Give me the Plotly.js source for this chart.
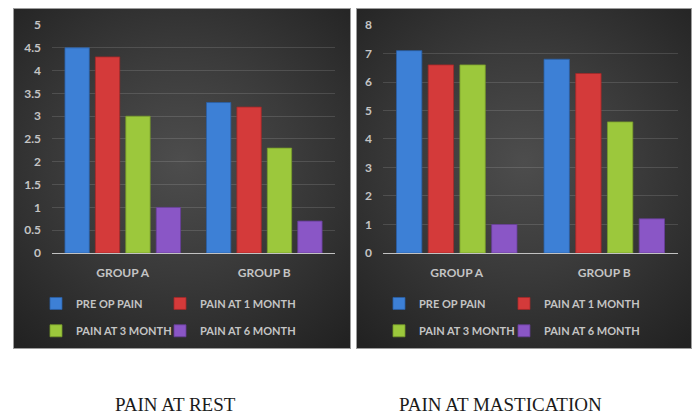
<!DOCTYPE html>
<html>
<head>
<meta charset="utf-8">
<script src="https://cdn.plot.ly/plotly-3.0.1.min.js"></script>
<style>
  html, body { margin: 0; padding: 0; background: #ffffff; }
  #wrap { position: relative; width: 699px; height: 414px; overflow: hidden; }
  .panel {
    position: absolute; top: 8px; height: 341px;
    background: radial-gradient(ellipse 75% 70% at 50% 45%, #4d4d4d 0%, #3b3b3b 45%, #2b2b2b 80%, #222222 100%);
    border: 1px solid #9c9c9c;
    box-sizing: border-box;
  }
  #panelRest { left: 13px; width: 338px; }
  #panelMast { left: 356px; width: 336px; }
  #chart { position: absolute; left: 0; top: 0; width: 699px; height: 414px; }
</style>
</head>
<body>
<div id="wrap">
  <div class="panel" id="panelRest"></div>
  <div class="panel" id="panelMast"></div>
  <div id="chart"></div>
</div>
<script>
// Groups on the category axis
const groups = ['GROUP A', 'GROUP B'];

// Series names and colours
const seriesNames = ['PRE OP PAIN', 'PAIN AT 1 MONTH', 'PAIN AT 3 MONTH', 'PAIN AT 6 MONTH'];
const seriesColors = ['#3d80d6', '#d43a3a', '#9cc83c', '#8a56c6'];
const seriesEdges = ['#2a5fa6', '#a32828', '#769a2a', '#673e99'];

// Pain at rest (left chart)
const restPreOp = [4.5, 3.3];
const rest1Month = [4.3, 3.2];
const rest3Month = [3.0, 2.3];
const rest6Month = [1.0, 0.7];

// Pain at mastication (right chart)
const mastPreOp = [7.1, 6.8];
const mast1Month = [6.6, 6.3];
const mast3Month = [6.6, 4.6];
const mast6Month = [1.0, 1.2];

// Y tick labels
const restTicks = [0, 0.5, 1, 1.5, 2, 2.5, 3, 3.5, 4, 4.5, 5];
const mastTicks = [0, 1, 2, 3, 4, 5, 6, 7, 8];

const restSeries = [restPreOp, rest1Month, rest3Month, rest6Month];
const mastSeries = [mastPreOp, mast1Month, mast3Month, mast6Month];

// one legend box per entry so the two-column key lines up exactly
const restLegends = ['legend', 'legend2', 'legend3', 'legend4'];
const mastLegends = ['legend5', 'legend6', 'legend7', 'legend8'];

const traces = [];
restSeries.forEach((vals, i) => {
  traces.push({
    type: 'bar', x: groups, y: vals, name: seriesNames[i],
    xaxis: 'x', yaxis: 'y', legend: restLegends[i],
    marker: { color: seriesColors[i], line: { color: seriesEdges[i], width: 0.8 } },
    hoverinfo: 'y'
  });
});
mastSeries.forEach((vals, i) => {
  traces.push({
    type: 'bar', x: groups, y: vals, name: seriesNames[i],
    xaxis: 'x2', yaxis: 'y2', legend: mastLegends[i],
    marker: { color: seriesColors[i], line: { color: seriesEdges[i], width: 0.8 } },
    hoverinfo: 'y'
  });
});

const uiFont = { family: 'Lato, "Open Sans", sans-serif', size: 12, color: '#c4c4c4', weight: 'bold' };
const keyFont = { family: 'Lato, "Open Sans", sans-serif', size: 11, color: '#c4c4c4', weight: 'bold' };
const gridColor = 'rgba(255,255,255,0.13)';

function yAxis(range, ticks) {
  return {
    range: range, tickvals: ticks, ticktext: ticks.map(String),
    domain: [0.3889, 0.9396],
    showgrid: true, gridcolor: gridColor, gridwidth: 1,
    zeroline: false, showline: false, ticks: '',
    ticklabelstandoff: 10,
    tickfont: uiFont, fixedrange: true
  };
}
function xAxis(domain) {
  return {
    domain: domain, type: 'category',
    showline: true, linecolor: '#c2c2c2', linewidth: 1.5,
    ticks: '', showgrid: false, zeroline: false,
    ticklabelstandoff: 8,
    tickfont: uiFont, fixedrange: true
  };
}
function legendAt(x, y) {
  return {
    x: x, y: y, xanchor: 'left', yanchor: 'middle', xref: 'paper', yref: 'paper',
    orientation: 'h',
    bgcolor: 'rgba(0,0,0,0)', borderwidth: 0,
    font: keyFont,
    itemclick: false, itemdoubleclick: false
  };
}

const col1Rest = 0.0515, col2Rest = 0.2289;
const col1Mast = 0.5422, col2Mast = 0.7210;
const row1 = 0.267, row2 = 0.201;

const titleFont = { family: '"Liberation Serif", "Times New Roman", serif', size: 19, color: '#1a1a1a' };

const layout = {
  width: 699, height: 414,
  margin: { l: 0, r: 0, t: 0, b: 0 },
  paper_bgcolor: 'rgba(0,0,0,0)',
  plot_bgcolor: 'rgba(0,0,0,0)',
  barmode: 'group', bargap: 0.14, bargroupgap: 0.2,
  showlegend: true,
  xaxis: Object.assign(xAxis([0.0744, 0.4793]), { anchor: 'y' }),
  yaxis: Object.assign(yAxis([0, 5], restTicks), { anchor: 'x' }),
  xaxis2: Object.assign(xAxis([0.5479, 0.97]), { anchor: 'y2' }),
  yaxis2: Object.assign(yAxis([0, 8], mastTicks), { anchor: 'x2' }),
  legend: legendAt(col1Rest, row1),
  legend2: legendAt(col2Rest, row1),
  legend3: legendAt(col1Rest, row2),
  legend4: legendAt(col2Rest, row2),
  legend5: legendAt(col1Mast, row1),
  legend6: legendAt(col2Mast, row1),
  legend7: legendAt(col1Mast, row2),
  legend8: legendAt(col2Mast, row2),
  annotations: [
    { text: 'PAIN AT REST', xref: 'paper', yref: 'paper', x: 0.251, y: 0.024,
      xanchor: 'center', yanchor: 'middle', showarrow: false, font: titleFont },
    { text: 'PAIN AT MASTICATION', xref: 'paper', yref: 'paper', x: 0.716, y: 0.024,
      xanchor: 'center', yanchor: 'middle', showarrow: false, font: titleFont }
  ]
};

Plotly.newPlot('chart', traces, layout, { displayModeBar: false, staticPlot: true });
</script>
</body>
</html>
